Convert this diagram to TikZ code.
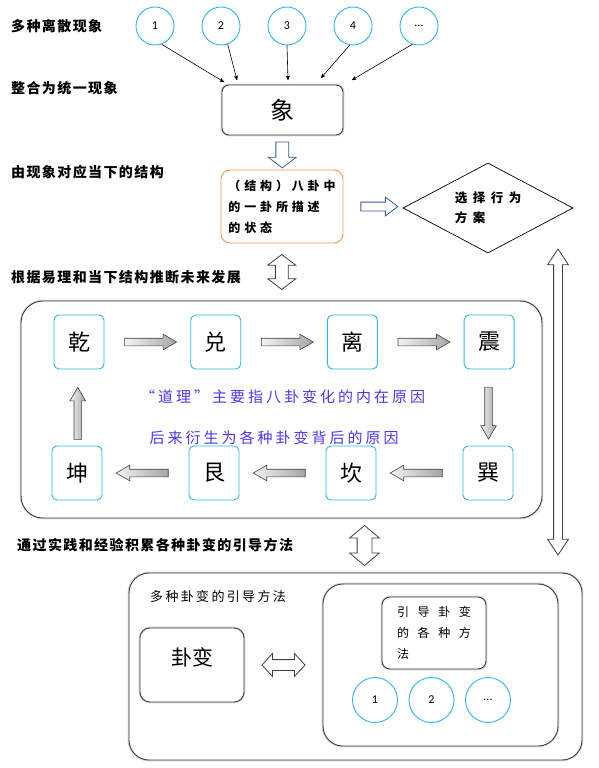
\documentclass[tikz,border=0pt]{standalone}
\usepackage{fontspec}
\setmainfont{Carlito}
\newfontfamily\cjk{Noto Sans CJK SC}
\usetikzlibrary{arrows,shapes.geometric,shapes.arrows,positioning,calc}
\definecolor{ringblue}{RGB}{45,180,235}
\definecolor{frame}{RGB}{60,60,60}
\definecolor{boxorange}{RGB}{240,150,75}
\definecolor{hollowblue}{RGB}{60,90,150}
\definecolor{notecolor}{RGB}{75,55,240}

\begin{document}
\begin{tikzpicture}[x=1pt,y=-1pt,>=stealth',
	tag node/.style={anchor=west,inner sep=0pt,font=\cjk\bfseries\fontsize{14}{16}\selectfont\addfontfeatures{LetterSpace=10}},
	ring node/.style={circle,draw=ringblue,line width=0.9pt,minimum size=38pt,inner sep=0pt,font=\fontsize{12}{14}\selectfont},
	card/.style={draw=frame,line width=0.9pt,fill=white,rounded corners=#1,preaction={draw=gray!30,line width=2.8pt}},
	gua node/.style={draw=ringblue,line width=0.9pt,rounded corners=5pt,minimum width=50pt,minimum height=54pt,inner sep=0pt,font=\cjk\fontsize{22}{24}\selectfont},
	fat arrow/.style={single arrow,draw=gray!50!black,line width=0.6pt,inner xsep=0pt,inner ysep=3.5pt,minimum height=52pt,minimum width=15pt,single arrow head extend=4pt,single arrow tip angle=60,left color=gray!10,right color=gray!70},
	hollow/.style={single arrow,draw=hollowblue,line width=0.8pt,fill=white,inner xsep=0pt},
	twin/.style={double arrow,draw=black!75,line width=0.8pt,fill=white,inner xsep=0pt},
	note/.style={inner sep=0pt,text=notecolor,font=\cjk\fontsize{15}{17}\selectfont\addfontfeatures{LetterSpace=20}}]
	
	\useasboundingbox (0,0) rectangle (598,768);
	
	\node[tag node] (l1) at (11,26) {多种离散现象};
	\node[tag node] (l2) at (11,88) {整合为统一现象};
	\node[tag node] (l3) at (11,172) {由现象对应当下的结构};
	\node[tag node] (l4) at (11,277) {根据易理和当下结构推断未来发展};
	\node[tag node] (l5) at (17,545) {通过实践和经验积累各种卦变的引导方法};
	
	\node[ring node] (c1) at (155,26) {1};
	\node[ring node] (c2) [right of=c1,node distance=66pt] {2};
	\node[ring node] (c3) [right of=c2,node distance=66pt] {3};
	\node[ring node] (c4) [right of=c3,node distance=66pt] {4};
	\node[ring node] (c5) [right of=c4,node distance=66pt] {...};
	
	\node[card=7pt,minimum width=121pt,minimum height=50pt,font=\cjk\fontsize{24}{26}\selectfont] (xiang) at (282.5,110) {象};
	
	\coordinate (t1) at (224,82);
	\coordinate (t2) at (237,80);
	\coordinate (t3) at (288,80);
	\coordinate (t4) at (321,78);
	\coordinate (t5) at (352,80);
	\path[->,line width=0.6pt]
	(c1.-70) edge (t1)
	(c2.-70) edge (t2)
	(c3.south) edge (t3)
	(c4.-100) edge (t4)
	(c5.-110) edge (t5);
	
	\node[draw=boxorange,line width=0.9pt,rounded corners=9pt,minimum width=122pt,minimum height=73pt,align=left,font=\cjk\bfseries\fontsize{12}{21}\selectfont\addfontfeatures{LetterSpace=32}] (struct) at (282,206.5) {（结构）八卦中\\的一卦所描述\\的状态};
	\node[diamond,draw,line width=0.7pt,aspect=1.9,minimum width=170pt,minimum height=90pt,inner sep=0pt,align=left,font=\cjk\bfseries\fontsize{12.5}{20}\selectfont\addfontfeatures{LetterSpace=44}] (choice) at (488,208) {选择行为\\方案};
	
	\node[hollow,rotate=-90,inner ysep=6pt,minimum height=26pt,minimum width=27pt,single arrow head extend=7.5pt,single arrow tip angle=105] (down) at ($(xiang.south)!.5!(struct.north)$) {};
	\node[hollow,inner ysep=4pt,minimum height=37pt,minimum width=18pt,single arrow head extend=5pt,single arrow tip angle=74,right=17pt of struct] (pick) {};
	
	\node[card=22pt,minimum width=521pt,minimum height=217pt] (flow) at (281.5,409.5) {};
	\node[twin,rotate=90,inner ysep=6pt,minimum height=35pt,minimum width=27pt,double arrow head extend=7.5pt,double arrow tip angle=105] (infer) at ($(struct.south)!.5!(flow.north)$) {};
	
	\node[gua node] (qian) at (79,342) {乾};
	\node[gua node] (dui) [right of=qian,node distance=136.7pt] {兑};
	\node[gua node] (li) [right of=dui,node distance=136.7pt] {离};
	\node[gua node] (zhen) [right of=li,node distance=136.7pt] {震};
	\node[gua node] (xun) at (488,473) {巽};
	\node[gua node] (kan) [left of=xun,node distance=137pt] {坎};
	\node[gua node] (gen) [left of=kan,node distance=137pt] {艮};
	\node[gua node] (kun) [left of=gen,node distance=137pt] {坤};
	
	\node[fat arrow] (a1) at ($(qian.east)!.5!(dui.west)$) {};
	\node[fat arrow] (a2) at ($(dui.east)!.5!(li.west)$) {};
	\node[fat arrow] (a3) at ($(li.east)!.5!(zhen.west)$) {};
	\node[fat arrow,rotate=-90] (a4) at ($(zhen.south)!.53!(xun.north)$) {};
	\node[fat arrow,rotate=180] (a5) at ($(xun.west)!.5!(kan.east)$) {};
	\node[fat arrow,rotate=180] (a6) at ($(kan.west)!.5!(gen.east)$) {};
	\node[fat arrow,rotate=180] (a7) at ($(gen.west)!.5!(kun.east)$) {};
	\node[fat arrow,rotate=90] (a8) at ($(kun.north)!.38!(qian.south)$) {};
	
	\node[note] (why) at (282.5,397) {“道理”主要指八卦变化的内在原因};
	\node[note] (later) at (274,438) {后来衍生为各种卦变背后的原因};
	
	\node[card=20pt,minimum width=453pt,minimum height=187pt] (guide) at (355.5,666.5) {};
	\node[twin,rotate=90,inner ysep=7pt,minimum height=40pt,minimum width=29pt,double arrow head extend=7.5pt,double arrow tip angle=100] (learn) at ($(flow.south)!.5!(guide.north)+(46,0)$) {};
	\node[twin,rotate=90,inner ysep=4pt,minimum height=306pt,minimum width=20pt,double arrow head extend=6pt,double arrow tip angle=67] (loop) at (558,402) {};
	
	\node[anchor=west,inner sep=0pt,font=\cjk\fontsize{13}{15}\selectfont\addfontfeatures{LetterSpace=18}] (title) at (150,597) {多种卦变的引导方法};
	\node[card=10pt,minimum width=104pt,minimum height=74pt,text depth=17pt,font=\cjk\fontsize{21}{23}\selectfont] (bian) at (192,665) {卦变};
	\node[card=20pt,minimum width=235pt,minimum height=162pt] (ways) at (440.5,665) {};
	\node[twin,inner ysep=5pt,minimum height=43pt,minimum width=22pt,double arrow head extend=6pt,double arrow tip angle=95] (swap) at ($(bian.east)!.5!(ways.west)$) {};
	\node[card=8pt,minimum width=104pt,minimum height=72pt,align=left,font=\cjk\fontsize{12}{21}\selectfont\addfontfeatures{LetterSpace=72}] (waybox) at (434,633) {引导卦变\\的各种方\\法};
	\node[ring node,minimum size=45pt] (w1) at (375,700) {1};
	\node[ring node,minimum size=45pt] (w2) [right of=w1,node distance=56.5pt] {2};
	\node[ring node,minimum size=45pt] (w3) [right of=w2,node distance=56.5pt] {...};
	
\end{tikzpicture}
\end{document}
